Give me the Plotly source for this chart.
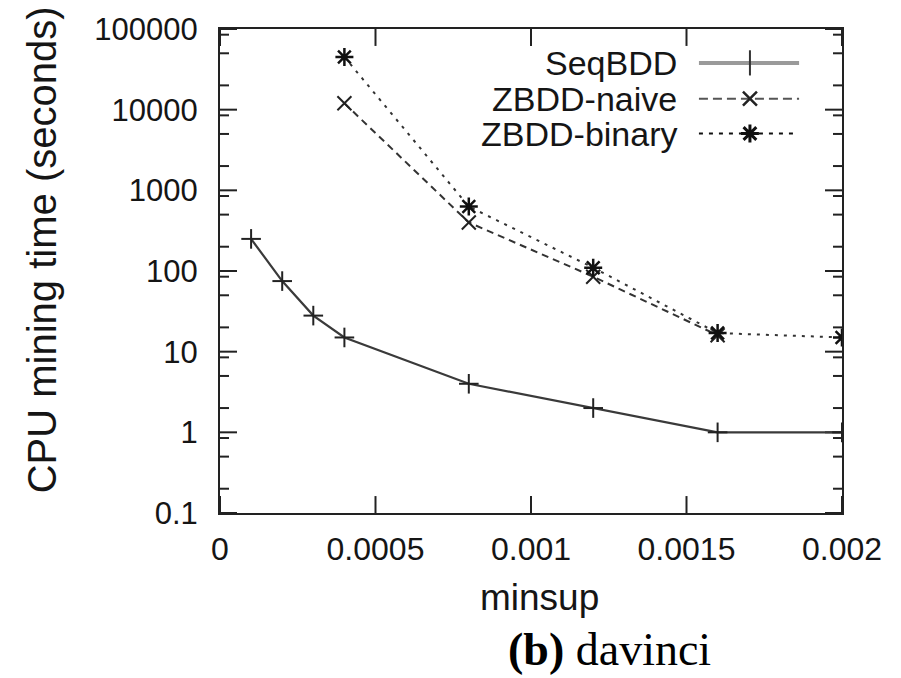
import math
import plotly.graph_objects as go

# ---- data ----
seq_x = [0.0001, 0.0002, 0.0003, 0.0004, 0.0008, 0.0012, 0.0016, 0.002]
seq_y = [250, 75, 28, 15, 4, 2, 1, 1]
naive_x = [0.0004, 0.0008, 0.0012, 0.0016]
naive_y = [12000, 400, 85, 16]
binary_x = [0.0004, 0.0008, 0.0012, 0.0016, 0.002]
binary_y = [45000, 630, 110, 17, 15]
series_names = ["SeqBDD", "ZBDD-naive", "ZBDD-binary"]

x_ticks = [0, 0.0005, 0.001, 0.0015, 0.002]
x_ticktext = ["0", "0.0005", "0.001", "0.0015", "0.002"]
y_ticks = [0.1, 1, 10, 100, 1000, 10000, 100000]
y_ticktext = ["0.1", "1", "10", "100", "1000", "10000", "100000"]
y_minor = [m * d for d in [0.1, 1, 10, 100, 1000, 10000] for m in (2, 5, 8.5)]
X_RANGE = [0, 0.002]
Y_LOG_RANGE = [-1, 5]

FONT = "Liberation Sans, Arial, sans-serif"
INK = "#151515"
PLOT_W, PLOT_H = 622, 486


def px(f):  # paper fraction -> x data value
    return X_RANGE[0] + f * (X_RANGE[1] - X_RANGE[0])


def py(f):  # paper fraction -> y data value on the log axis
    return 10 ** (Y_LOG_RANGE[0] + f * (Y_LOG_RANGE[1] - Y_LOG_RANGE[0]))


fig = go.Figure()

# ---- inside tick marks on all four sides, drawn as a helper line trace ----
MAJ, MIN = 17, 9
tx, ty = [], []
for v in x_ticks:
    tx += [v, v, None, v, v, None]
    ty += [py(0), py(MAJ / PLOT_H), None, py(1), py(1 - MAJ / PLOT_H), None]
for vals, ln in ((y_ticks, MAJ), (y_minor, MIN)):
    for v in vals:
        tx += [px(0), px(ln / PLOT_W), None, px(1), px(1 - ln / PLOT_W), None]
        ty += [v, v, None, v, v, None]
fig.add_trace(go.Scatter(x=tx, y=ty, mode="lines", line=dict(color="#222222", width=2),
                         connectgaps=False, hoverinfo="skip", showlegend=False,
                         cliponaxis=False))

fig.add_trace(go.Scatter(x=seq_x, y=seq_y, mode="lines+markers", name=series_names[0],
                         line=dict(color="#3a3a3a", width=2.2),
                         marker=dict(symbol="line-ns", size=14, color="#222",
                                     line=dict(color="#222", width=2)),
                         showlegend=False))
fig.add_trace(go.Scatter(x=naive_x, y=naive_y, mode="lines+markers", name=series_names[1],
                         line=dict(color="#333", width=2, dash="7px,5px"),
                         marker=dict(symbol="x-thin-open", size=14, color="#222",
                                     line=dict(color="#222", width=2)),
                         showlegend=False))
fig.add_trace(go.Scatter(x=binary_x, y=binary_y, mode="lines+markers", name=series_names[2],
                         line=dict(color="#333", width=2, dash="3px,6px"),
                         marker=dict(symbol="asterisk-open", size=15, color="#111",
                                     line=dict(color="#111", width=2.5)),
                         showlegend=False))
fig.add_trace(go.Scatter(x=seq_x, y=seq_y, mode="markers", hoverinfo="skip",
                         marker=dict(symbol="line-ew", size=14, color="#222",
                                     line=dict(color="#222", width=2)),
                         showlegend=False))

# ---- custom legend (text left of sample, as in gnuplot) ----
leg_y = [0.930, 0.856, 0.784]
lx0, lx1, lxm = 0.770, 0.931, 0.852
L = dict(hoverinfo="skip", showlegend=False, cliponaxis=False)
fig.add_trace(go.Scatter(x=[px(lx0), px(lx1)], y=[py(leg_y[0])] * 2, mode="lines",
                         line=dict(color="#9a9a9a", width=4), **L))
fig.add_trace(go.Scatter(x=[px(lxm)], y=[py(leg_y[0])], mode="markers",
                         marker=dict(symbol="line-ns", size=18, color="#333",
                                     line=dict(color="#333", width=2)), **L))
fig.add_trace(go.Scatter(x=[px(lx0), px(lx1)], y=[py(leg_y[1])] * 2, mode="lines",
                         line=dict(color="#555", width=2, dash="9px,5px"), **L))
fig.add_trace(go.Scatter(x=[px(lxm)], y=[py(leg_y[1])], mode="markers",
                         marker=dict(symbol="x-thin-open", size=14, color="#222",
                                     line=dict(color="#222", width=2.5)), **L))
fig.add_trace(go.Scatter(x=[px(lx0), px(0.922)], y=[py(leg_y[2])] * 2, mode="lines",
                         line=dict(color="#111", width=2, dash="4px,6px"), **L))
fig.add_trace(go.Scatter(x=[px(lxm)], y=[py(leg_y[2])], mode="markers",
                         marker=dict(symbol="asterisk-open", size=15, color="#111",
                                     line=dict(color="#111", width=3)), **L))

annotations = []
for name, yy in zip(series_names, leg_y):
    annotations.append(dict(text=name, x=0.738, y=yy, xref="paper", yref="paper",
                            xanchor="right", yanchor="middle", showarrow=False,
                            font=dict(family=FONT, size=34, color=INK)))
annotations.append(dict(text="CPU mining time (seconds)", x=-0.286, y=0.543,
                        xref="paper", yref="paper", textangle=-90, showarrow=False,
                        xanchor="center", yanchor="middle",
                        font=dict(family=FONT, size=40, color=INK)))
annotations.append(dict(text="minsup", x=0.513, y=-0.175, xref="paper", yref="paper",
                        showarrow=False, xanchor="center", yanchor="middle",
                        font=dict(family=FONT, size=37, color=INK)))
annotations.append(dict(text="<b>(b)</b> davinci", x=0.627, y=-0.283, xref="paper", yref="paper",
                        showarrow=False, xanchor="center", yanchor="middle",
                        font=dict(family="Liberation Serif, serif", size=46, color="#000")))

fig.update_layout(
    width=901, height=678,
    margin=dict(l=220, r=59, t=27, b=165),
    paper_bgcolor="white", plot_bgcolor="white",
    showlegend=False,
    annotations=annotations,
    xaxis=dict(range=X_RANGE, tickvals=x_ticks, ticktext=x_ticktext, ticks="",
               showline=True, linecolor="#222222", linewidth=2, mirror=True,
               showgrid=False, zeroline=False, ticklabelstandoff=7,
               tickfont=dict(family=FONT, size=32, color=INK)),
    yaxis=dict(type="log", range=Y_LOG_RANGE, tickvals=y_ticks, ticktext=y_ticktext, ticks="",
               showline=True, linecolor="#222222", linewidth=2, mirror=True,
               showgrid=False, zeroline=False, ticklabelstandoff=14,
               tickfont=dict(family=FONT, size=31, color=INK)),
)

fig.write_html("out.html")
